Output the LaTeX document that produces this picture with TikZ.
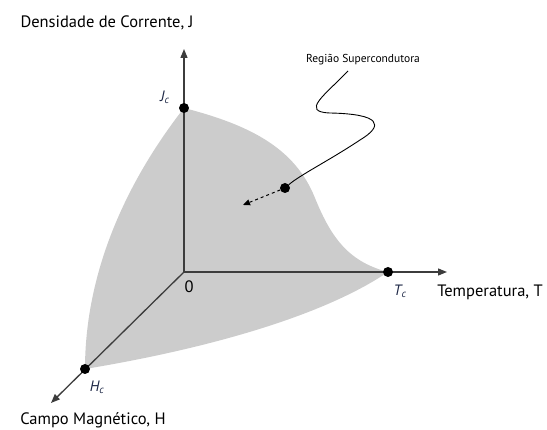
\documentclass[tikz,border=0pt]{standalone}
\usepackage{fontspec}
\setmainfont{PT Sans}
\usepackage{xcolor}
\usetikzlibrary{arrows.meta,positioning}
\definecolor{regiongray}{RGB}{204,204,204}
\definecolor{axisgray}{RGB}{60,60,60}
\definecolor{critblue}{RGB}{30,40,70}
\tikzset{
  axis/.style    = {draw=axisgray, line width=1.3pt, -{Triangle[length=9pt,width=7pt]}},
  dot/.style     = {fill, circle, inner sep=0pt, minimum size=10pt},
  axlabel/.style = {font=\fontsize{16.5}{19}\selectfont, inner sep=0pt},
  crit/.style    = {font=\fontsize{15}{18}\selectfont\itshape, text=critblue, inner sep=0pt},
}

\begin{document}
\begin{tikzpicture}[x=1pt,y=1pt]
\useasboundingbox (0,0) rectangle (547,430);
% ---------- points ----------
\coordinate (O) at (184,158);
\coordinate (Jtip) at (184,381);
\coordinate (Ttip) at (447,158);
\coordinate (Htip) at (51,27);
% ---------- superconducting region ----------
\fill[regiongray] (184,322) .. controls (250,305) and (295,282) .. (315,232)
  .. controls (332,190) and (350,168) .. (388,158)
  .. controls (320,112) and (200,80) .. (85,61)
  .. controls (85,150) and (120,240) .. (184,322) -- cycle;
% ---------- axes ----------
\draw[axis] (O) -- (Jtip);
\draw[axis] (O) -- (Ttip);
\draw[axis] (O) -- (Htip);
\node[dot] (Jc) at (184,322) {};
\node[dot] (Tc) at (388,158) {};
\node[dot] (Hc) at (85,61) {};
\node[dot] (S) at (285,242) {};
% ---------- labels ----------
\node[axlabel] (Jlbl) at (107,407) {Densidade de Corrente, J};
\node[axlabel] (Tlbl) at (490,138) {Temperatura, T};
\node[axlabel] (Hlbl) at (93,10) {Campo Magnético, H};
\node[axlabel] (zero) at (189,143) {0};
\node[crit] (Jclbl) at (165,333) {J\textsubscript{c}};
\node[crit] (Tclbl) at (400,139) {T\textsubscript{c}};
\node[crit] (Hclbl) at (97,43) {H\textsubscript{c}};
\node[font=\fontsize{11.5}{14}\selectfont, inner sep=0pt] (reg) at (363,370) {Região Supercondutora};
% ---------- pointer ----------
\coordinate (dashend) at (243,225);
\draw[line width=0.9pt] (348,359) .. controls (325,335) and (300,318) .. (330,317)
  .. controls (380,316) and (385,305) .. (360,290)
  .. controls (330,270) and (300,255) .. (S);
\draw[line width=1pt, dashed, -{Triangle[length=7pt,width=6pt]}] (S) -- (dashend);
\end{tikzpicture}
\end{document}
